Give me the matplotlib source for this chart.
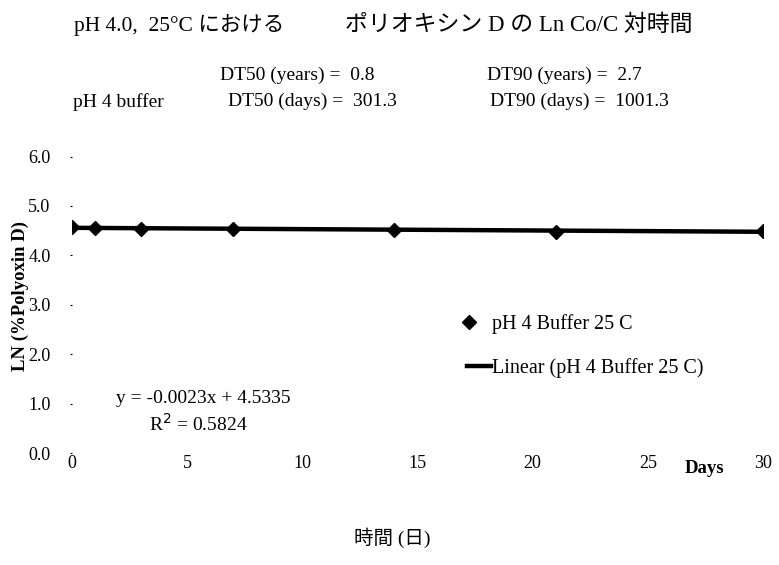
import numpy as np
import matplotlib
matplotlib.use("Agg")
import matplotlib.pyplot as plt
from matplotlib.lines import Line2D
from matplotlib.legend_handler import HandlerLine2DCompound

plt.rcParams['font.family'] = ['Liberation Serif', 'Noto Sans CJK JP', 'DejaVu Sans']

# データ (日数と LN(%ポリオキシン D))
days = [0, 1, 3, 7, 14, 21, 30]
ln_pct = [4.58, 4.56, 4.54, 4.53, 4.51, 4.48, 4.50]
x_ticks = [0, 5, 10, 15, 20, 25, 30]
y_ticks = [0.0, 1.0, 2.0, 3.0, 4.0, 5.0, 6.0]

title_left = "pH 4.0,  25°C における"
title_right = "ポリオキシン D の Ln Co/C 対時間"
series_name = "pH 4 Buffer 25 C"


class LeftMarker(HandlerLine2DCompound):
    # 凡例のマーカーを左寄せにする
    def get_xdata(self, legend, xdescent, ydescent, width, height, fontsize):
        xdata, _ = super().get_xdata(legend, xdescent, ydescent, width, height, fontsize)
        return xdata, np.array([-xdescent + 0.1 * width])


fig = plt.figure(figsize=(7.79, 5.65), dpi=100)
ax = fig.add_axes([0.0924, 0.198, 0.887, 0.525])

ax.plot(days, ln_pct, linestyle="none", marker="D", markersize=7, color="black")
slope, icpt = np.polyfit(days, ln_pct, 1)
xx = np.array([days[0], days[-1]])
ax.plot(xx, slope * xx + icpt, color="black", lw=3.2, solid_capstyle="butt")

ax.set_xlim(0, 30)
ax.set_ylim(0, 6)
ax.set_xticks(x_ticks)
ax.set_yticks(y_ticks)
ax.set_yticklabels([f"{v:.1f}" for v in y_ticks])
for s in ax.spines.values():
    s.set_visible(False)
ax.tick_params(axis="y", length=1.5, width=0.8, pad=14, labelsize=13)
ax.tick_params(axis="x", length=0, pad=1, labelsize=13)

ax.set_ylabel("LN (%Polyoxin D)", fontsize=13.5, fontweight="bold")
ax.yaxis.set_label_coords(-0.062, 0.53)
fig.text(0.905, 0.198 - 0.028, "Days", fontsize=13.5, fontweight="bold",
         ha="center", va="center")
fig.text(0.503, 0.048, "時間 (日)", fontsize=14, ha="center", va="center")

fig.text(0.095, 0.955, title_left, fontsize=15.5, ha="left", va="center")
fig.text(0.443, 0.955, title_right, fontsize=16.5, ha="left", va="center")
fig.text(0.283, 0.867, "DT50 (years) =  0.8", fontsize=14, ha="left", va="center")
fig.text(0.625, 0.867, "DT90 (years) =  2.7", fontsize=14, ha="left", va="center")
fig.text(0.094, 0.82, "pH 4 buffer", fontsize=14, ha="left", va="center")
fig.text(0.293, 0.82, "DT50 (days) =  301.3", fontsize=14, ha="left", va="center")
fig.text(0.629, 0.82, "DT90 (days) =  1001.3", fontsize=14, ha="left", va="center")

ax.text(5.7, 1.1, "y = -0.0023x + 4.5335", fontsize=14, ha="center", va="center")
ax.text(5.5, 0.6, "R$^2$ = 0.5824", fontsize=14, ha="center", va="center")

handles = [
    Line2D([], [], linestyle="none", marker="D", markersize=7, color="black"),
    Line2D([], [], color="black", lw=3.2),
]
ax.legend(handles, [series_name, f"Linear ({series_name})"], loc="center left",
          bbox_to_anchor=(0.545, 0.36), frameon=False, fontsize=14.5,
          handlelength=1.2, handletextpad=0.05, labelspacing=1.2,
          handler_map={handles[0]: LeftMarker()})

fig.savefig("out.png", dpi=100)
